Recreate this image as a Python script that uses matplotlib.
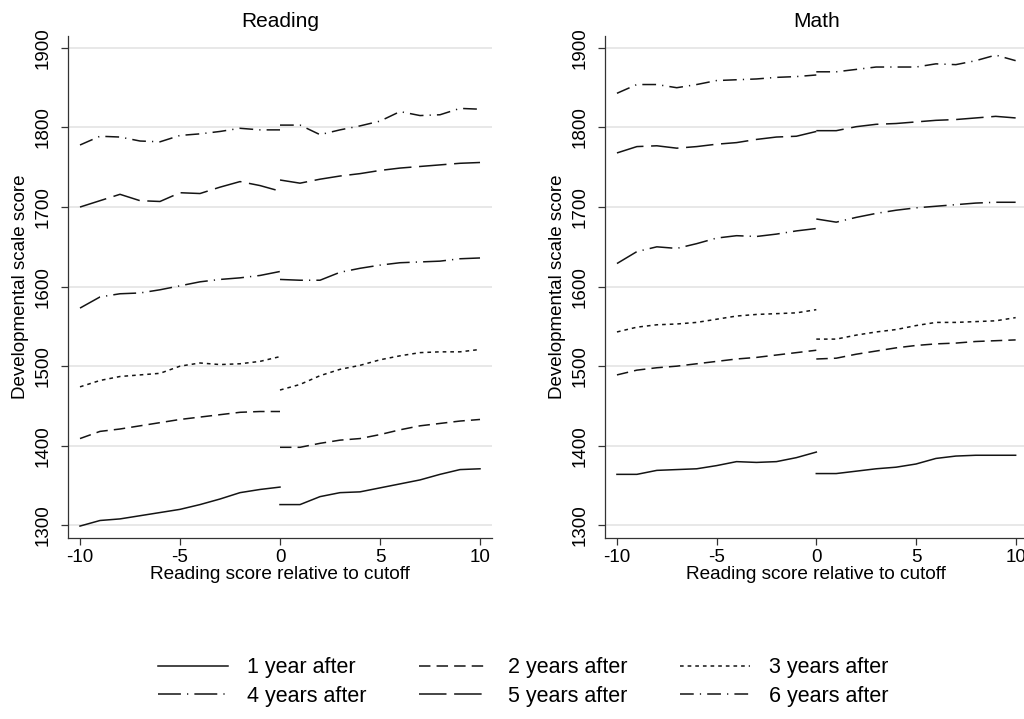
import matplotlib
matplotlib.use("Agg")
import matplotlib.pyplot as plt

plt.rcParams['font.family'] = ['Liberation Sans', 'DejaVu Sans']

x_below = [-10, -9, -8, -7, -6, -5, -4, -3, -2, -1, 0]
x_above = [0, 1, 2, 3, 4, 5, 6, 7, 8, 9, 10]

series_labels = ["1 year after", "2 years after", "3 years after",
                 "4 years after", "5 years after", "6 years after"]

# Reading panel
reading_1yr_below = [1299, 1306, 1308, 1312, 1316, 1320, 1326, 1333, 1341, 1345, 1348]
reading_1yr_above = [1326, 1326, 1336, 1341, 1342, 1347, 1352, 1357, 1364, 1370, 1371]
reading_2yr_below = [1409, 1418, 1421, 1425, 1429, 1433, 1436, 1439, 1442, 1443, 1443]
reading_2yr_above = [1398, 1398, 1403, 1407, 1409, 1414, 1420, 1425, 1428, 1431, 1433]
reading_3yr_below = [1474, 1482, 1487, 1489, 1491, 1500, 1504, 1502, 1503, 1506, 1512]
reading_3yr_above = [1470, 1477, 1488, 1496, 1501, 1508, 1513, 1517, 1518, 1518, 1521]
reading_4yr_below = [1573, 1587, 1591, 1592, 1596, 1601, 1606, 1609, 1611, 1614, 1619]
reading_4yr_above = [1609, 1608, 1608, 1618, 1623, 1627, 1630, 1631, 1632, 1635, 1636]
reading_5yr_below = [1700, 1708, 1716, 1708, 1707, 1718, 1717, 1725, 1732, 1727, 1720]
reading_5yr_above = [1734, 1730, 1735, 1739, 1742, 1746, 1749, 1751, 1753, 1755, 1756]
reading_6yr_below = [1778, 1789, 1788, 1783, 1782, 1790, 1792, 1795, 1799, 1797, 1797]
reading_6yr_above = [1803, 1803, 1791, 1797, 1802, 1808, 1820, 1815, 1816, 1824, 1823]

# Math panel
math_1yr_below = [1364, 1364, 1369, 1370, 1371, 1375, 1380, 1379, 1380, 1385, 1392]
math_1yr_above = [1365, 1365, 1368, 1371, 1373, 1377, 1384, 1387, 1388, 1388, 1388]
math_2yr_below = [1489, 1495, 1498, 1500, 1503, 1506, 1509, 1511, 1514, 1517, 1520]
math_2yr_above = [1509, 1510, 1515, 1519, 1523, 1526, 1528, 1529, 1531, 1532, 1533]
math_3yr_below = [1543, 1549, 1552, 1553, 1555, 1559, 1563, 1565, 1566, 1567, 1571]
math_3yr_above = [1534, 1534, 1539, 1543, 1546, 1551, 1555, 1555, 1556, 1557, 1561]
math_4yr_below = [1629, 1644, 1650, 1648, 1654, 1661, 1664, 1663, 1666, 1670, 1673]
math_4yr_above = [1685, 1681, 1687, 1692, 1696, 1699, 1701, 1703, 1705, 1706, 1706]
math_5yr_below = [1768, 1776, 1777, 1774, 1776, 1779, 1781, 1785, 1788, 1789, 1795]
math_5yr_above = [1796, 1796, 1801, 1804, 1805, 1807, 1809, 1810, 1812, 1814, 1812]
math_6yr_below = [1843, 1854, 1854, 1850, 1854, 1859, 1860, 1861, 1863, 1864, 1866]
math_6yr_above = [1870, 1870, 1873, 1876, 1876, 1876, 1880, 1879, 1884, 1891, 1884]

y_ticks = [1300, 1400, 1500, 1600, 1700, 1800, 1900]
x_ticks = [-10, -5, 0, 5, 10]

styles = [
    '-',
    (0, (7.5, 4.0)),
    (0, (2.4, 2.6)),
    (0, (15, 4, 0.8, 4)),
    (0, (18, 5)),
    (0, (9, 4, 0.8, 4)),
]
line_color = '#141414'
lw = 1.1

fig = plt.figure(figsize=(10.24, 7.19), dpi=100)
ax_r = fig.add_axes([68/1024, 1 - 538/719, 424/1024, (538-36)/719])
ax_m = fig.add_axes([605/1024, 1 - 538/719, 422.6/1024, (538-36)/719])

reading = [(reading_1yr_below, reading_1yr_above), (reading_2yr_below, reading_2yr_above),
           (reading_3yr_below, reading_3yr_above), (reading_4yr_below, reading_4yr_above),
           (reading_5yr_below, reading_5yr_above), (reading_6yr_below, reading_6yr_above)]
math = [(math_1yr_below, math_1yr_above), (math_2yr_below, math_2yr_above),
        (math_3yr_below, math_3yr_above), (math_4yr_below, math_4yr_above),
        (math_5yr_below, math_5yr_above), (math_6yr_below, math_6yr_above)]

handles = []
for ax, data, title in [(ax_r, reading, "Reading"), (ax_m, math, "Math")]:
    for i, (below, above) in enumerate(data):
        h, = ax.plot(x_below, below, linestyle=styles[i], color=line_color, lw=lw,
                     label=series_labels[i])
        ax.plot(x_above, above, linestyle=styles[i], color=line_color, lw=lw)
        if ax is ax_r:
            handles.append(h)
    ax.set_xlim(-10.6, 10.6)
    ax.set_ylim(1284, 1915)
    ax.set_xticks(x_ticks)
    ax.set_xticklabels([str(t) for t in x_ticks])
    ax.set_yticks(y_ticks)
    ax.set_yticklabels([str(t) for t in y_ticks])
    ax.grid(axis='y', color='#e6e6e6', lw=1.3)
    ax.set_axisbelow(True)
    for s in ['top', 'right']:
        ax.spines[s].set_visible(False)
    for s in ['left', 'bottom']:
        ax.spines[s].set_color('#333333')
        ax.spines[s].set_linewidth(0.9)
    ax.tick_params(axis='y', labelrotation=90, length=5, width=0.9, pad=6.5,
                   labelsize=13.5, color='#333333')
    ax.tick_params(axis='x', length=5, width=0.9, pad=3, labelsize=13.5, color='#333333')
    for lab in ax.get_yticklabels():
        lab.set_va('center')
    ax.set_title(title, fontsize=15, pad=6.5)
    ax.set_xlabel("Reading score relative to cutoff", fontsize=13.7, labelpad=0)
    ax.set_ylabel("Developmental scale score", fontsize=13.5)
    ax.yaxis.set_label_coords(-0.092, 0.5)

order = [0, 3, 1, 4, 2, 5]
fig.legend([handles[i] for i in order], [series_labels[i] for i in order],
           loc='center', bbox_to_anchor=(523/1024, 1 - 682/719), ncol=3,
           frameon=False, fontsize=15.5, handlelength=3.25, handletextpad=0.88,
           columnspacing=2.44, labelspacing=0.35)

fig.savefig("out.png", dpi=100)
